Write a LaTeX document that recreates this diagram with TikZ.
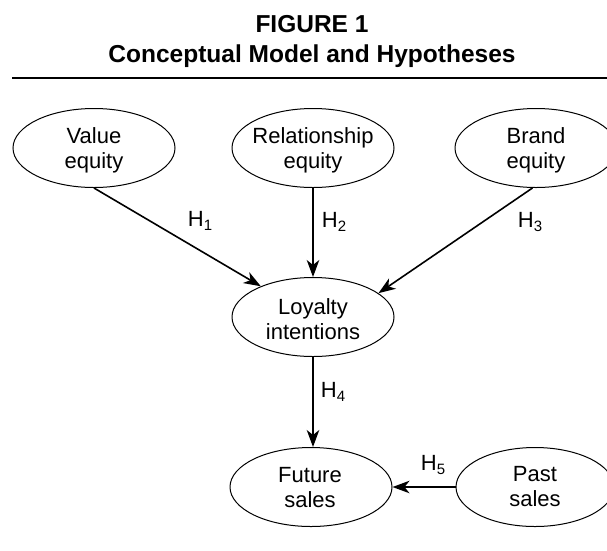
\documentclass[tikz,border=0pt]{standalone}
\usepackage{fontspec}
\setmainfont{Liberation Sans}
\usetikzlibrary{arrows.meta,shapes.geometric}
\newcommand{\hsub}[1]{H\raisebox{-3.5pt}{\fontsize{15}{15}\selectfont #1}}
\begin{document}
\begin{tikzpicture}[x=1pt,y=-1pt,
  var/.style={draw=black,line width=1pt,ellipse,minimum width=162pt,minimum height=79pt,inner sep=0pt},
  vartext/.style={inner sep=0pt,align=center,font=\fontsize{22}{25}\selectfont},
  hyp/.style={-{Stealth[length=17pt,width=12.5pt,inset=5pt]},line width=1.6pt},
  hlab/.style={font=\fontsize{22}{25}\selectfont,inner sep=0pt},
  titl/.style={anchor=base,inner sep=0pt,font=\bfseries\fontsize{24.5}{29}\selectfont}]
\useasboundingbox (0,0) rectangle (607,550);
% title
\node[titl] (t1) at (312,32) {FIGURE 1};
\node[titl] (t2) at (312,62) {Conceptual Model and Hypotheses};
\coordinate (rl) at (12,78);
\coordinate (rr) at (607,78);
\draw[line width=2.2pt] (rl) -- (rr);
% ellipses
\node[var] (val) at (94,148) {};
\node[var] (rel) at (313,148) {};
\node[var] (bra) at (536,148) {};
\node[var] (loy) at (313,317) {};
\node[var] (fut) at (311,487) {};
\node[var,minimum width=158pt] (pas) at (535,487) {};
% texts
\node[vartext] (valt) at (94,150) {Value\\equity};
\node[vartext] (relt) at (313,150) {Relationship\\equity};
\node[vartext] (brat) at (536,150) {Brand\\equity};
\node[vartext] (loyt) at (313,319.5) {Loyalty\\intentions};
\node[vartext] (futt) at (310,488) {Future\\sales};
\node[vartext] (past) at (535,487) {Past\\sales};
% arrows
\draw[hyp] (val.south) -- (loy);
\draw[hyp] (rel.south) -- (loy.north);
\draw[hyp] (bra.265) -- (loy.20);
\draw[hyp] (loy.south) -- (loy.south |- fut.north);
\draw[hyp] (pas.west) -- (fut.east);
% labels
\node[hlab] (h1) at (200,221) {\hsub{1}};
\node[hlab] (h2) at (334,222) {\hsub{2}};
\node[hlab] (h3) at (530,222) {\hsub{3}};
\node[hlab] (h4) at (333,392) {\hsub{4}};
\node[hlab] (h5) at (433,465) {\hsub{5}};
\end{tikzpicture}
\end{document}
